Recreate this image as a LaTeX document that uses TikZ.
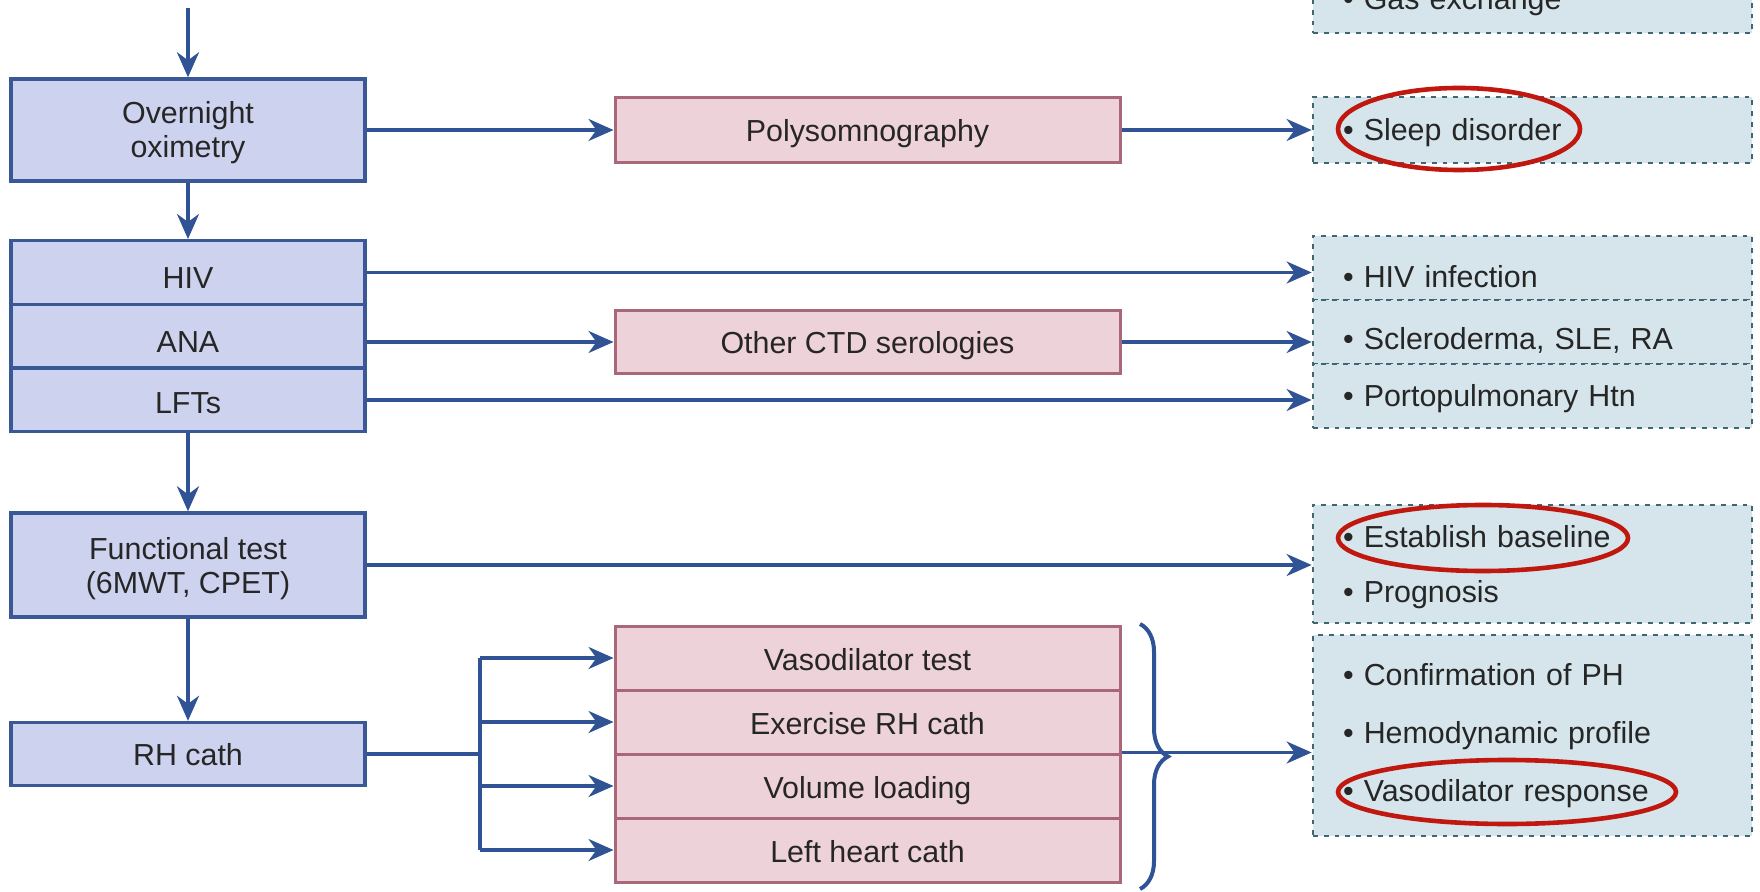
\documentclass[tikz,border=0pt]{standalone}
\usepackage{fontspec}
\setmainfont{Liberation Sans}
\usetikzlibrary{arrows.meta,decorations.pathreplacing}
\definecolor{bfill}{HTML}{CDD2EF}
\definecolor{bdraw}{HTML}{3A5796}
\definecolor{pfill}{HTML}{EED2D9}
\definecolor{pdraw}{HTML}{A8687A}
\definecolor{rfill}{HTML}{D5E5EB}
\definecolor{rdraw}{HTML}{3F6672}
\definecolor{acol}{HTML}{2F5394}
\definecolor{ovcol}{HTML}{C0180E}
\definecolor{tcol}{HTML}{262626}
\begin{document}
\begin{tikzpicture}[x=0.5pt,y=-0.5pt,
  lbox/.style={draw=bdraw, fill=bfill, line width=1.7pt, minimum width=177pt, text=tcol,
    font=\fontsize{15.2}{17}\selectfont, align=center, inner sep=0pt},
  pbox/.style={draw=pdraw, fill=pfill, line width=1.5pt, minimum width=252.5pt, minimum height=32pt,
    text=tcol, font=\fontsize{15.2}{17}\selectfont, align=center, inner sep=0pt,
    text height=12pt, text depth=0pt},
  rbox/.style={draw=rdraw, fill=rfill, line width=1.4pt, dash pattern=on 2.4pt off 3pt,
    minimum width=219.5pt, text width=189.5pt, align=left, inner xsep=15pt, inner ysep=0pt,
    text=tcol, font=\fontsize{15.2}{17}\selectfont},
  tpos/.style={text height=#1, text depth=0pt},
  arr/.style={draw=acol, line width=1.6pt, -{Stealth[length=12.5pt,width=11pt,inset=4pt]}},
  conn/.style={draw=acol, line width=1.6pt},
  oval/.style={draw=ovcol, line width=2.3pt}
]
\useasboundingbox (0,0) rectangle (1760,892);
\clip (0,0) rectangle (1760,892);
\fill[white] (0,0) rectangle (1760,892);

% left column
\node[lbox, minimum height=51pt, text depth=1pt] (ov) at (188,130) {Overnight\\oximetry};
\node[lbox, minimum height=31.8pt, tpos=16pt] (hiv) at (188,272.5) {HIV};
\node[lbox, minimum height=31.8pt, tpos=16pt] (ana) at (188,336.5) {ANA};
\node[lbox, minimum height=31.8pt, tpos=14pt] (lft) at (188,400) {LFTs};
\node[lbox, minimum height=52pt, text depth=-2.8pt] (fun) at (188,565) {Functional test\\(6MWT, CPET)};
\node[lbox, minimum height=31.5pt, tpos=11pt] (rh) at (188,754) {RH cath};

% middle column
\node[pbox, minimum height=32.5pt] (poly) at (867.5,130) {Polysomnography};
\node[pbox, minimum height=31.5pt] (ctd) at (867.5,342) {Other CTD serologies};
\node[pbox] (vt) at (867.5,658) {Vasodilator test};
\node[pbox] (ex) at (867.5,722) {Exercise RH cath};
\node[pbox] (vl) at (867.5,786) {Volume loading};
\node[pbox] (lh) at (867.5,850) {Left heart cath};

% right column
\node[rbox, minimum height=32pt, tpos=9pt] (gas) at (1532.5,1) {• Gas exchange};
\node[rbox, minimum height=33pt, tpos=11pt] (sl) at (1532.5,130) {• Sleep disorder};
\node[rbox, minimum height=32pt, tpos=19.5pt] (hi) at (1532.5,268) {• HIV infection};
\node[rbox, minimum height=32pt, tpos=17.5pt] (sc) at (1532.5,332) {• Scleroderma, SLE, RA};
\node[rbox, minimum height=32pt, tpos=11pt] (pp) at (1532.5,396) {• Portopulmonary Htn};
\node[rbox, minimum height=59pt] (es) at (1532.5,564)
  {\rule{0pt}{14.6pt}• Establish baseline\\[10.5pt]• Prognosis};
\node[rbox, minimum height=100.5pt] (co) at (1532.5,735.5)
  {• Confirmation of PH\\[12pt]• Hemodynamic profile\\[12pt]• Vasodilator response};

% vertical flow
\coordinate (top) at (188,8);
\draw[arr] (top) -- (ov.north);
\draw[arr] (ov.south) -- (hiv.north);
\draw[arr] (lft.south) -- (fun.north);
\draw[arr] (fun.south) -- (rh.north);

% horizontal arrows
\draw[arr] (ov.east) -- (poly.west);
\draw[arr] (poly.east) -- (sl.west);
\draw[arr] (hiv.east) -- (hiv.east -| hi.west);
\draw[arr] (ana.east |- ctd.west) -- (ctd.west);
\draw[arr] (ctd.east) -- (ctd.east -| sc.west);
\draw[arr] (lft.east) -- (lft.east -| pp.west);
\draw[arr] (fun.east) -- (fun.east -| es.west);

% RH cath branches
\coordinate (br) at (480,754);
\draw[conn] (rh.east) -- (br);
\draw[conn] (br |- vt.west) -- (br |- lh.west);
\draw[arr] (br |- vt.west) -- (vt.west);
\draw[arr] (br |- ex.west) -- (ex.west);
\draw[arr] (br |- vl.west) -- (vl.west);
\draw[arr] (br |- lh.west) -- (lh.west);

% brace and arrow to results
\draw[arr] (vl.north east) -- (vl.north east -| co.west);
\draw[draw=acol, line width=2pt, decorate, decoration={brace, amplitude=14pt}]
  (1140,624) -- (1140,889);

% red highlight ovals
\draw[oval] (1459,129) ellipse [x radius=60.5pt, y radius=20.5pt];
\draw[oval] (1483,538) ellipse [x radius=72.5pt, y radius=16.5pt];
\draw[oval] (1507,792) ellipse [x radius=84.5pt, y radius=16pt];
\end{tikzpicture}
\end{document}
